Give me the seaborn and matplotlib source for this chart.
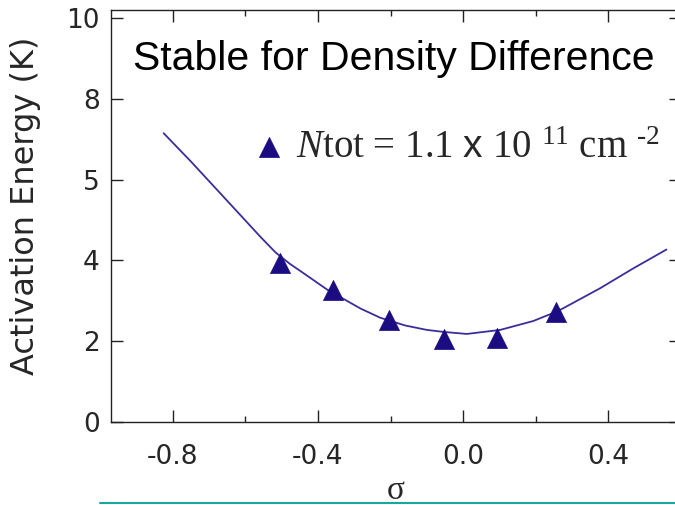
import matplotlib
matplotlib.use("Agg")
import matplotlib.pyplot as plt
import seaborn as sns
import pandas as pd
from matplotlib.lines import Line2D

# ---- data ----
sigma_pts = [-0.505, -0.358, -0.205, -0.054, 0.093, 0.256]
energy_pts = [3.93, 3.27, 2.52, 2.05, 2.07, 2.73]

sigma_curve = [-0.825, -0.75, -0.677, -0.60, -0.558, -0.517, -0.478, -0.439,
               -0.375, -0.283, -0.228, -0.16, -0.10, -0.054, 0.01, 0.102,
               0.193, 0.262, 0.377, 0.468, 0.56]
energy_curve = [7.15, 6.45, 5.74, 4.99, 4.58, 4.20, 3.92, 3.68,
                3.28, 2.81, 2.58, 2.39, 2.28, 2.23, 2.18, 2.28,
                2.50, 2.75, 3.31, 3.80, 4.27]

y_tick_pos = [0, 2, 4, 6, 8, 10]
y_tick_labels = ["0", "2", "4", "5", "8", "10"]
x_major = [-0.8, -0.4, 0.0, 0.4]
x_major_labels = ["-0.8", "-0.4", "0.0", "0.4"]
x_minor = [-0.6, -0.2, 0.2]

title_text = "Stable for Density Difference"
legend_label = r"$N$tot = 1.1 $\mathsf{x}$ 10 ${}^{11}$ cm ${}^{\text{-2}}$"

pts = pd.DataFrame({"sigma": sigma_pts, "energy": energy_pts})
curve = pd.DataFrame({"sigma": sigma_curve, "energy": energy_curve})

sns.set_style("ticks")
plt.rcParams["font.family"] = ["DejaVu Sans"]
plt.rcParams["mathtext.fontset"] = "custom"
plt.rcParams["mathtext.rm"] = "Liberation Serif"
plt.rcParams["mathtext.it"] = "Liberation Serif:italic"
plt.rcParams["mathtext.sf"] = "Liberation Sans"

fig = plt.figure(figsize=(6.75, 5.05), dpi=100)
ax = fig.add_axes([111 / 675, 83 / 505, 570 / 675, 412 / 505])

line_color = "#3A2E9A"
mark_color = "#1B0C82"

sns.lineplot(data=curve, x="sigma", y="energy", ax=ax, color=line_color,
             linewidth=1.3, legend=False, sort=False)
sns.scatterplot(data=pts, x="sigma", y="energy", ax=ax, marker="^", s=210,
                color=mark_color, edgecolor=mark_color, linewidth=0.5,
                label=legend_label, zorder=3)

ax.set_xlim(-0.97, 0.6)
ax.set_ylim(0, 10.2)

ax.set_xticks(x_major)
ax.set_xticklabels(x_major_labels)
ax.set_xticks(x_minor, minor=True)
ax.set_yticks(y_tick_pos)
ax.set_yticklabels(y_tick_labels)

ax.tick_params(axis="both", which="both", direction="in", top=True, right=True,
               color="#222222", width=1.0)
ax.tick_params(axis="both", which="major", length=8.5, labelsize=19)
ax.tick_params(axis="x", which="major", pad=16)
ax.tick_params(axis="y", which="major", pad=8)
ax.tick_params(axis="x", which="minor", length=4.3)
for s in ax.spines.values():
    s.set_linewidth(1.0)
    s.set_color("#222222")

ax.set_ylabel("Activation Energy (K)", fontsize=23)
ax.yaxis.set_label_coords(-0.122, 0.525)
ax.set_xlabel("σ", fontsize=24, labelpad=4, family="Liberation Serif")

ax.text(0.4965, 0.854, title_text, transform=ax.transAxes, ha="center",
        va="baseline", fontsize=29.5, family="Liberation Sans", color="black")

leg = ax.legend(loc="center left", bbox_to_anchor=(0.2456, 0.665), frameon=False,
                prop={"family": "Liberation Serif", "size": 28},
                handletextpad=0.22, borderpad=0, borderaxespad=0,
                handlelength=0.95)

fig.add_artist(Line2D([100 / 675, 1.0], [2 / 505, 2 / 505], color="#1AA89A",
                      linewidth=1.5, transform=fig.transFigure))

fig.savefig("out.png", dpi=100)
